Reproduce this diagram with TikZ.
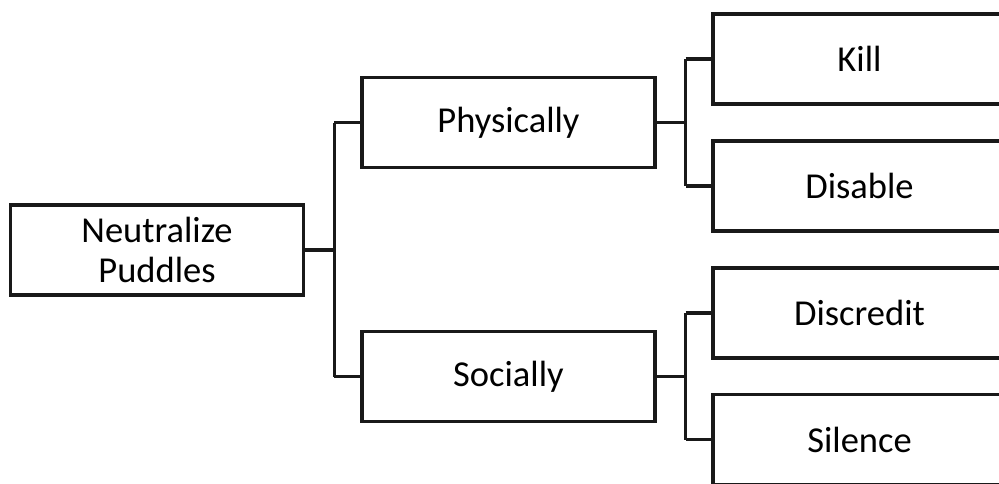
\documentclass[tikz,border=0pt]{standalone}
\usepackage{fontspec}
\setmainfont{Carlito}
\usetikzlibrary{calc}
\begin{document}
\begin{tikzpicture}[x=1pt,y=-1pt,
  box/.style={draw=black!90,line width=3.2pt,rectangle,inner sep=0pt,
    minimum width=293pt,minimum height=90pt,align=center,
    font=\fontsize{36.5}{40}\selectfont},
  link/.style={draw=black!90,line width=3.2pt}]
\useasboundingbox (0,0) rectangle (999,483);
\fill[white] (0,0) rectangle (999,483);
\clip (0,0) rectangle (999,483);
% tree nodes
\node[box] (root) at (157,250) {Neutralize\\Puddles};
\node[box] (phys) at (508.5,122.5) {Physically};
\node[box] (soc)  at (508.5,376.5) {Socially};
\node[box] (kill) at (859.5,59)  {Kill};
\node[box] (dis)  at (859.5,186) {Disable};
\node[box] (disc) at (859.5,313) {Discredit};
\node[box] (sil)  at (859.5,439.5) {Silence};
% elbow connectors
\coordinate (s1) at ($(root.east)+(29,0)$);
\coordinate (s2) at ($(phys.east)+(29,0)$);
\coordinate (s3) at ($(soc.east)+(29,0)$);
\draw[link] (root.east) -- (s1);
\draw[link] (s1 |- phys.west) -- (s1 |- soc.west);
\draw[link] (s1 |- phys.west) -- (phys.west);
\draw[link] (s1 |- soc.west) -- (soc.west);
\draw[link] (phys.east) -- (s2);
\draw[link] (s2 |- kill.west) -- (s2 |- dis.west);
\draw[link] (s2 |- kill.west) -- (kill.west);
\draw[link] (s2 |- dis.west) -- (dis.west);
\draw[link] (soc.east) -- (s3);
\draw[link] (s3 |- disc.west) -- (s3 |- sil.west);
\draw[link] (s3 |- disc.west) -- (disc.west);
\draw[link] (s3 |- sil.west) -- (sil.west);
\end{tikzpicture}
\end{document}
